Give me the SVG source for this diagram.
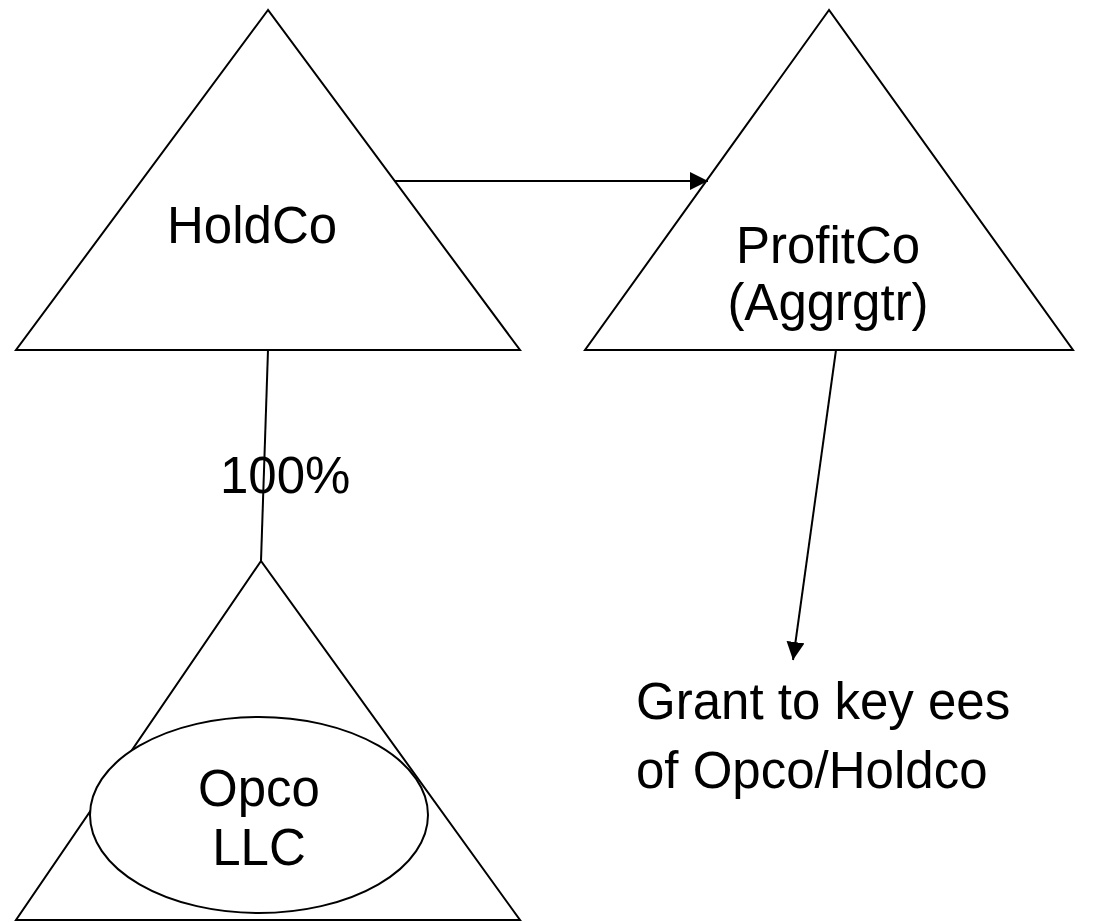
<svg xmlns="http://www.w3.org/2000/svg" width="1099" height="922" viewBox="0 0 1099 922">
  <style>
    .shape { fill: #ffffff; stroke: #000000; stroke-width: 2; }
    .wire { fill: none; stroke: #000000; stroke-width: 2; }
    .label { font-family: "Liberation Sans", Arial, sans-serif; font-size: 51px; fill: #000000; }
    .mid { text-anchor: middle; }
  </style>
  <defs>
    <marker id="arrow" viewBox="0 0 10 10" refX="10" refY="5" markerWidth="8" markerHeight="8" markerUnits="userSpaceOnUse" orient="auto">
      <path d="M0,0 L10,5 L0,10 z" fill="#000000"/>
    </marker>
    <marker id="arrowBig" viewBox="0 0 10 10" refX="10" refY="5" markerWidth="18" markerHeight="18" markerUnits="userSpaceOnUse" orient="auto">
      <path d="M0,0 L10,5 L0,10 z" fill="#000000"/>
    </marker>
  </defs>

  <rect width="1099" height="922" fill="#ffffff"/>

  <!-- Holding company -->
  <g id="holdco">
    <polygon class="shape" points="268,10 16,350 520,350"/>
    <text class="label" x="167" y="243">HoldCo</text>
  </g>

  <!-- Profit interest aggregator -->
  <g id="profitco">
    <polygon class="shape" points="829,10 585,350 1073,350"/>
    <text class="label mid" x="828" y="263">ProfitCo</text>
    <text class="label mid" x="828" y="320">(Aggrgtr)</text>
  </g>

  <!-- Operating company -->
  <g id="opco">
    <polygon class="shape" points="261,561 16,920 520,920"/>
    <ellipse class="shape" cx="259" cy="815" rx="169" ry="98"/>
    <text class="label mid" x="259" y="806">Opco</text>
    <text class="label mid" x="259" y="865">LLC</text>
  </g>

  <!-- Grant recipients -->
  <g id="grant">
    <text class="label" x="636" y="719">Grant to key ees</text>
    <text class="label" x="636" y="788">of Opco/Holdco</text>
  </g>

  <!-- Connectors -->
  <g id="connectors">
    <line class="wire" x1="395" y1="181" x2="708" y2="181" marker-end="url(#arrowBig)"/>
    <line class="wire" x1="836" y1="350" x2="793" y2="660" marker-end="url(#arrowBig)"/>
    <line class="wire" x1="268" y1="350" x2="261" y2="561"/>
    <text class="label" x="220" y="493">100%</text>
  </g>
</svg>
